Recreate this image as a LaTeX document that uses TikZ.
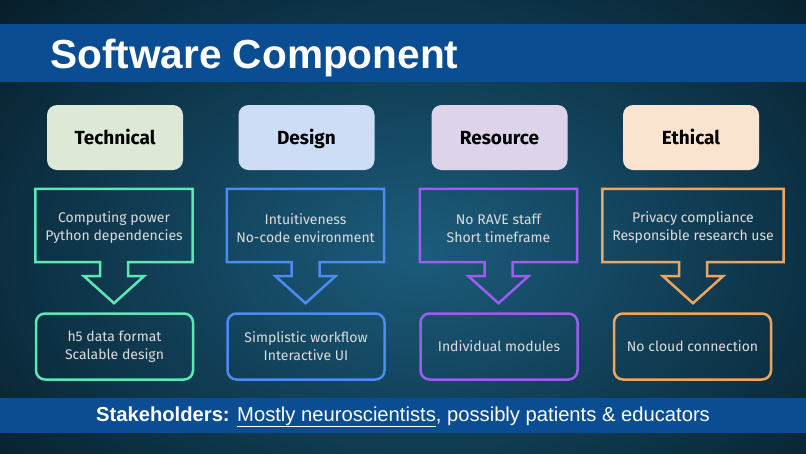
\documentclass[tikz,border=0pt]{standalone}
\usepackage{fontspec}
\setmainfont{Fira Sans}
\newfontfamily\helv{Liberation Sans}
\usetikzlibrary{calc}
\definecolor{bandblue}{HTML}{0B4D93}
\definecolor{bgA}{HTML}{1C5C7C}
\definecolor{bgB}{HTML}{0D3347}
\definecolor{cgreen}{HTML}{5EE6B4}
\definecolor{cblue}{HTML}{4A8CF0}
\definecolor{cpurple}{HTML}{9D5CF2}
\definecolor{corange}{HTML}{F0A55A}
\definecolor{fgreen}{HTML}{DDE9D6}
\definecolor{fblue}{HTML}{CDDDF6}
\definecolor{fpurple}{HTML}{DDD4EA}
\definecolor{forange}{HTML}{FBE4CF}
\definecolor{bodygray}{HTML}{DCDCDC}
\pgfdeclareradialshading{bgshade}{\pgfpoint{0bp}{0bp}}{color(0bp)=(bgA); color(11bp)=(bgB); color(25bp)=(black); color(50bp)=(black)}
\tikzset{
  header/.style={fill=#1, rounded corners=10pt, minimum width=136pt, minimum height=65pt, inner sep=0pt,
    text height=13.5pt, text depth=0pt,
    font=\fontsize{19}{22}\selectfont\bfseries, text=black},
  calloutline/.style={draw=#1, line width=2.5pt, line join=miter},
  resultbox/.style={draw=#1, line width=2.5pt, rounded corners=9pt, minimum width=157pt, minimum height=66pt,
    inner sep=0pt, align=center, font=\fontsize{14}{18}\selectfont, text=bodygray},
  callouttext/.style={inner sep=0pt, align=center, font=\fontsize{14}{18}\selectfont, text=bodygray},
}
\newcommand\drawcallout[2]{%
  \draw[calloutline=#2] (#1.north west) -- (#1.north east) -- (#1.south east)
    -- ($(#1.south)+(14,0)$) -- ($(#1.south)+(14,14)$) -- ($(#1.south)+(30,14)$)
    -- ($(#1.south)+(0,41)$) -- ($(#1.south)+(-30,14)$) -- ($(#1.south)+(-14,14)$)
    -- ($(#1.south)+(-14,0)$) -- (#1.south west) -- cycle;
}
\begin{document}
\begin{tikzpicture}[x=1pt,y=-1pt]
\useasboundingbox (0,0) rectangle (806,453);
\begin{scope}
  \clip (0,0) rectangle (806,453);
  \fill[black] (0,0) rectangle (806,453);
  \shade[shading=bgshade] (-420,-310) rectangle (1260,810);
\end{scope}
% bands
\fill[bandblue] (0,24) rectangle (806,82);
\fill[bandblue] (0,398) rectangle (806,433);
\node[anchor=base west, inner sep=0pt, text=white, font=\helv\bfseries\fontsize{40.6}{48}\selectfont] (title) at (50,68) {Software Component};
\node[anchor=base, inner sep=0pt, text=white, font=\helv\fontsize{20.2}{24}\selectfont] (stake) at (403,421)
  {\textbf{Stakeholders:} \underline{Mostly neuroscientists}, possibly patients \& educators};
% headers
\node[header=fgreen] (h1) at (115,137.5) {Technical};
\node[header=fblue] (h2) at (306.5,137.5) {Design};
\node[header=fpurple] (h3) at (499.5,137.5) {Resource};
\node[header=forange] (h4) at (691,137.5) {Ethical};
% callouts (outline nodes)
\node[minimum width=157pt, minimum height=73pt, inner sep=0pt] (c1) at (114,225.5) {};
\node[minimum width=157pt, minimum height=73pt, inner sep=0pt] (c2) at (305.5,225.5) {};
\node[minimum width=157pt, minimum height=73pt, inner sep=0pt] (c3) at (498.5,225.5) {};
\node[minimum width=181pt, minimum height=73pt, inner sep=0pt] (c4) at (693,225.5) {};
\node[callouttext] (t1) at ($(c1)+(0,2.5)$) {Computing power\\Python dependencies};
\node[callouttext] (t2) at ($(c2)+(0,2.5)$) {Intuitiveness\\No-code environment};
\node[callouttext] (t3) at ($(c3)+(0,2.5)$) {No RAVE staff\\Short timeframe};
\node[callouttext] (t4) at ($(c4)+(0,2.5)$) {Privacy compliance\\Responsible research use};
\drawcallout{c1}{cgreen}
\drawcallout{c2}{cblue}
\drawcallout{c3}{cpurple}
\drawcallout{c4}{corange}
% results
\node[resultbox=cgreen] (r1) at (114.5,346.5) {h5 data format\\Scalable design};
\node[resultbox=cblue] (r2) at (306,346.5) {Simplistic workflow\\Interactive UI};
\node[resultbox=cpurple] (r3) at (499,346.5) {Individual modules};
\node[resultbox=corange] (r4) at (692.5,346.5) {No cloud connection};
\end{tikzpicture}
\end{document}
